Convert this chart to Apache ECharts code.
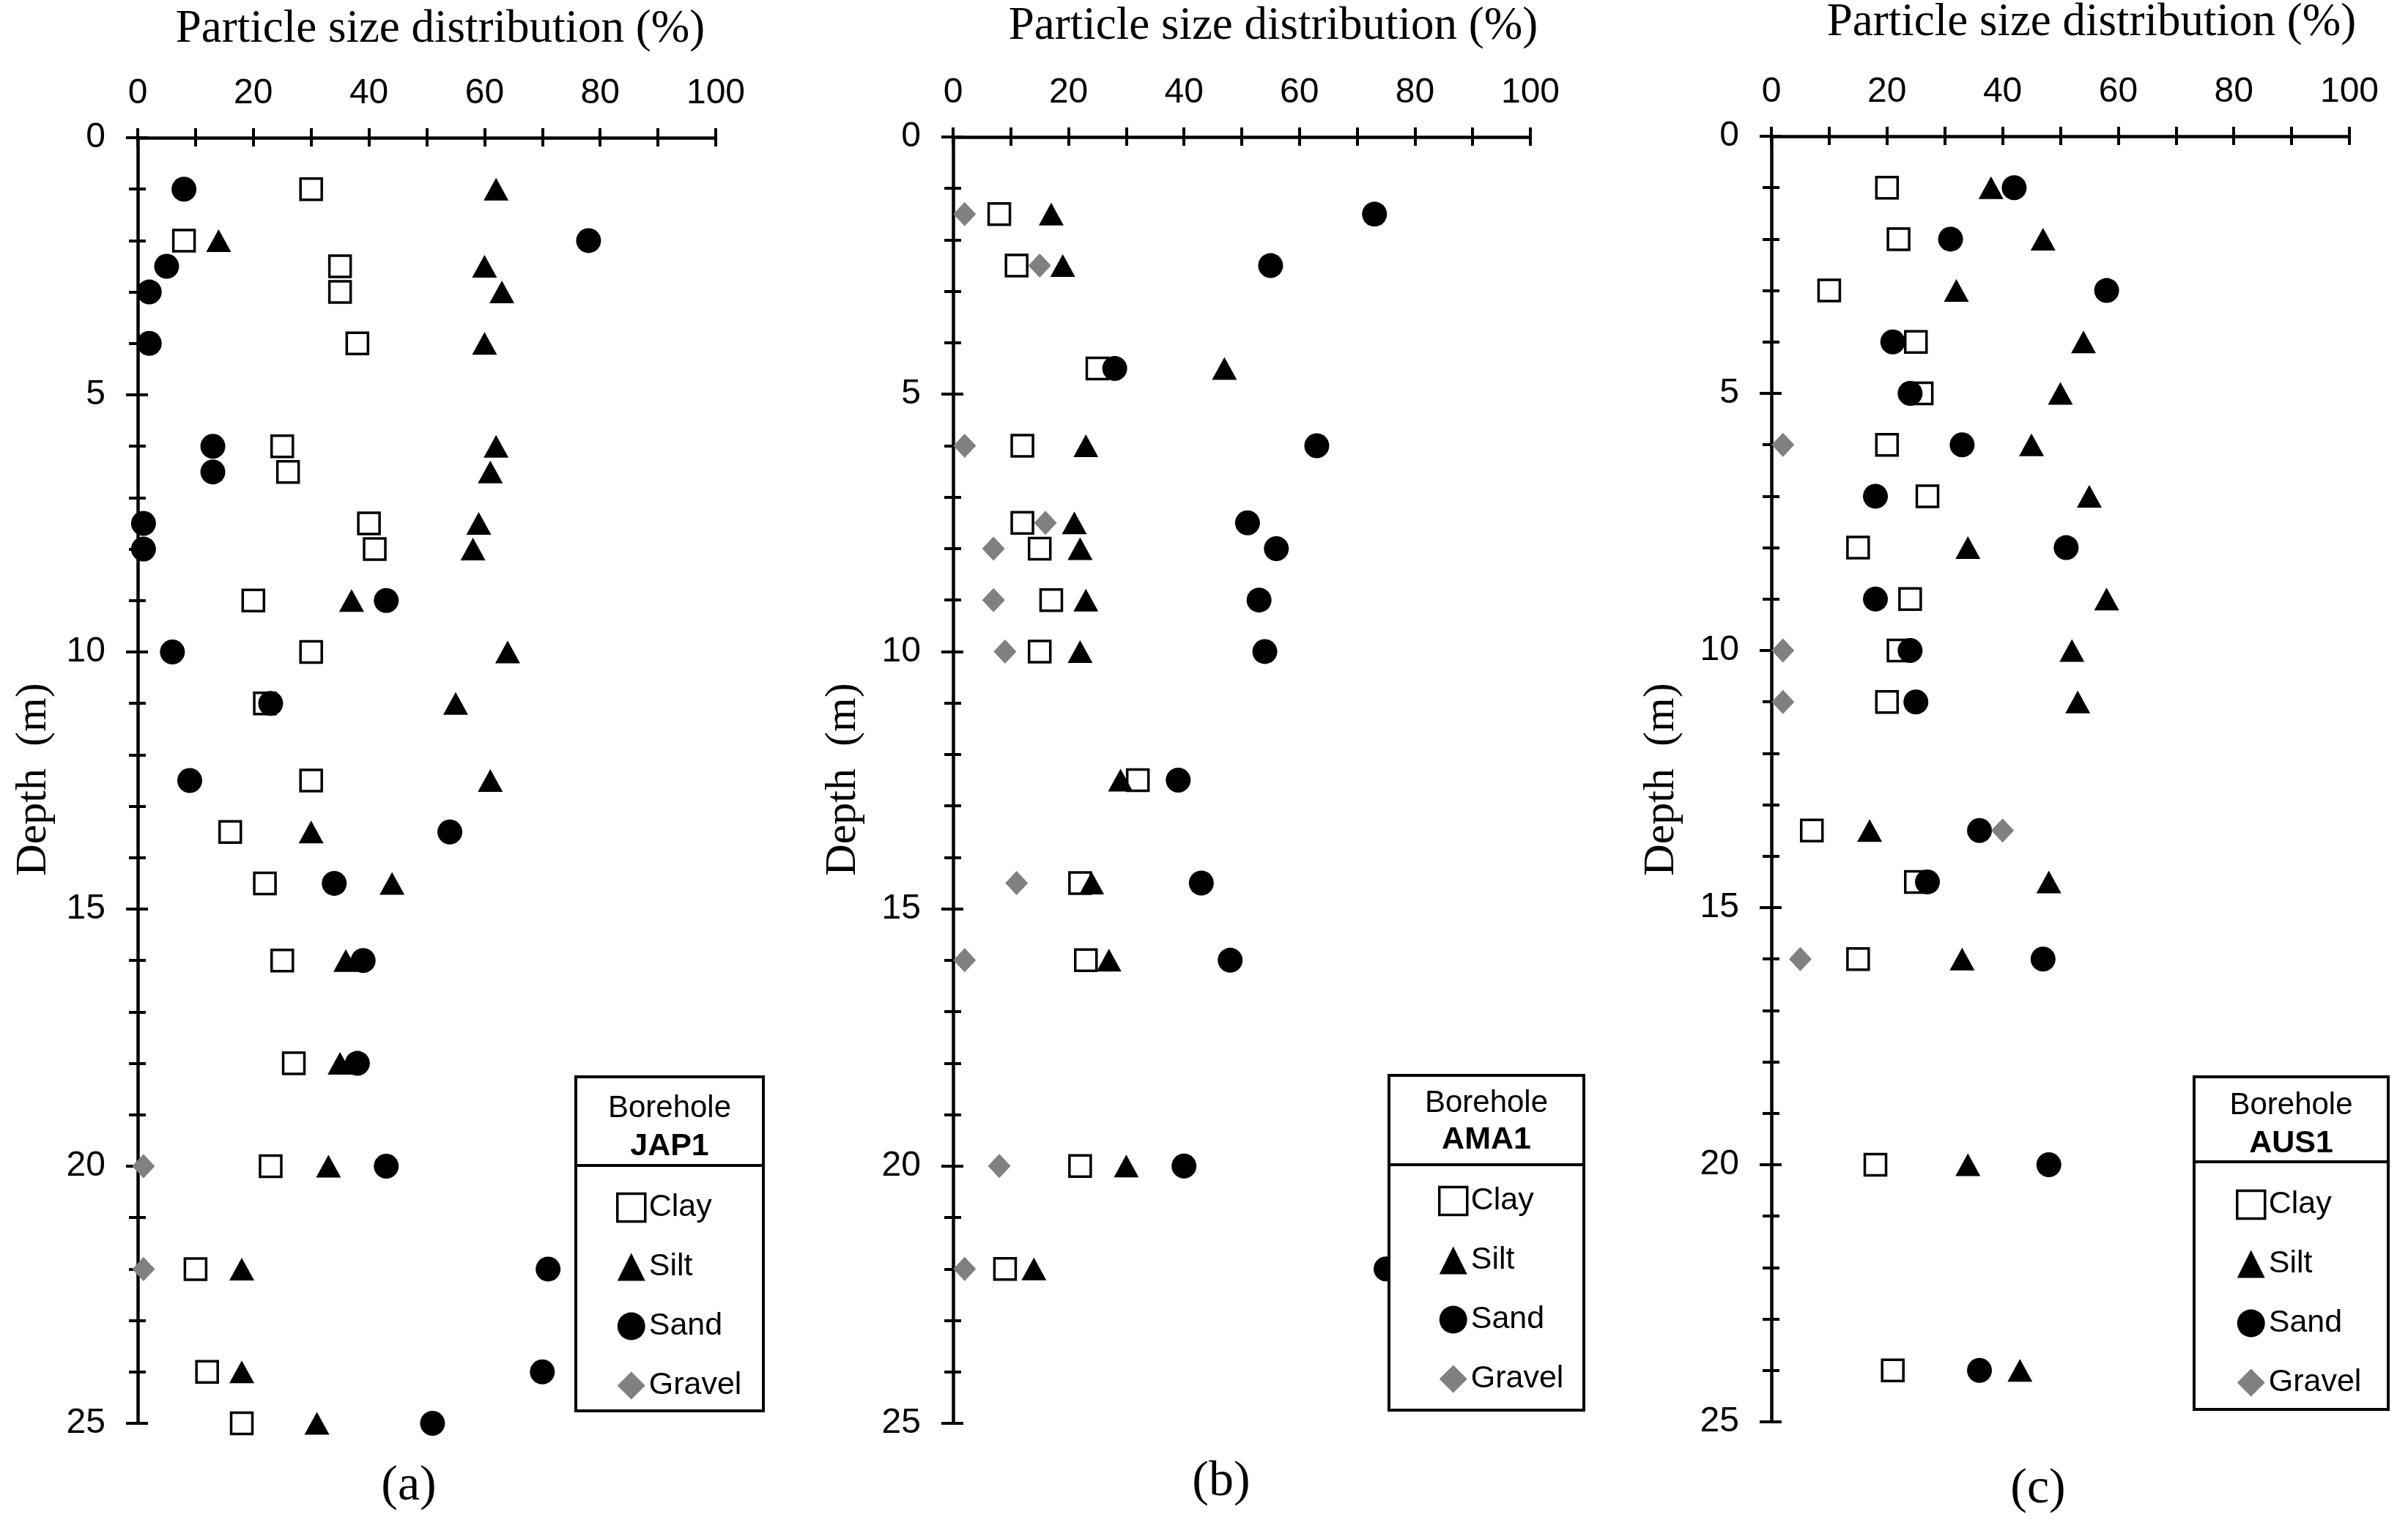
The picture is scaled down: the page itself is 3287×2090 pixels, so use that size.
<!DOCTYPE html>
<html>
<head>
<meta charset="utf-8">
<script src="https://cdn.jsdelivr.net/npm/echarts@6.0.0/dist/echarts.min.js"></script>
<style>
html, body { margin: 0; padding: 0; background: #fff; }
#main { width: 3287px; height: 2090px; }
</style>
</head>
<body>
<div id="main"></div>
<script>
// borehole JAP1 (a) - depth in m, fractions in %
var jap1Depth  = [1, 2, 2.5, 3, 4, 6, 6.5, 7.5, 8, 9, 10, 11, 12.5, 13.5, 14.5, 16, 18, 20, 22, 24, 25];
var jap1Clay   = [30, 8, 35, 35, 38, 25, 26, 40, 41, 20, 30, 22, 30, 16, 22, 25, 27, 23, 10, 12, 18];
var jap1Silt   = [62, 14, 60, 63, 60, 62, 61, 59, 58, 37, 64, 55, 61, 30, 44, 36, 35, 33, 18, 18, 31];
var jap1Sand   = [8, 78, 5, 2, 2, 13, 13, 1, 1, 43, 6, 23, 9, 54, 34, 39, 38, 43, 71, 70, 51];
var jap1Gravel = [null, null, null, null, null, null, null, null, null, null, null, null, null, null, null, null, null, 1, 1, null, null];

// borehole AMA1 (b)
var ama1Depth  = [1.5, 2.5, 4.5, 6, 7.5, 8, 9, 10, 12.5, 14.5, 16, 20, 22];
var ama1Clay   = [8, 11, 25, 12, 12, 15, 17, 15, 32, 22, 23, 22, 9];
var ama1Silt   = [17, 19, 47, 23, 21, 22, 23, 22, 29, 24, 27, 30, 14];
var ama1Sand   = [73, 55, 28, 63, 51, 56, 53, 54, 39, 43, 48, 40, 75];
var ama1Gravel = [2, 15, null, 2, 16, 7, 7, 9, null, 11, 2, 8, 2];

// borehole AUS1 (c)
var aus1Depth  = [1, 2, 3, 4, 5, 6, 7, 8, 9, 10, 11, 13.5, 14.5, 16, 20, 24];
var aus1Clay   = [20, 22, 10, 25, 26, 20, 27, 15, 24, 22, 20, 7, 25, 15, 18, 21];
var aus1Silt   = [38, 47, 32, 54, 50, 45, 55, 34, 58, 52, 53, 17, 48, 33, 34, 43];
var aus1Sand   = [42, 31, 58, 21, 24, 33, 18, 51, 18, 24, 25, 36, 27, 47, 48, 36];
var aus1Gravel = [null, null, null, null, null, 2, null, null, null, 2, 2, 40, null, 5, null, null];

var fractions = ['Clay', 'Silt', 'Sand', 'Gravel'];

var boreholes = [
    { name: 'JAP1', tag: '(a)', depth: jap1Depth, values: [jap1Clay, jap1Silt, jap1Sand, jap1Gravel] },
    { name: 'AMA1', tag: '(b)', depth: ama1Depth, values: [ama1Clay, ama1Silt, ama1Sand, ama1Gravel] },
    { name: 'AUS1', tag: '(c)', depth: aus1Depth, values: [aus1Clay, aus1Silt, aus1Sand, aus1Gravel] }
];

// layout of the three panels (pixels)
var panels = [
    { left: 188,  top: 188, width: 789, height: 1755, titleX: 601,  titleY: 40, depthX: 46,   tagX: 558,  tagY: 2029,
      box: [786, 1470, 256, 456], sepY: 1591, headY: [1513, 1565], legendLeft: 836 },
    { left: 1301, top: 187, width: 788, height: 1756, titleX: 1738, titleY: 36, depthX: 1151, tagX: 1667, tagY: 2023,
      box: [1896, 1468, 266, 457], sepY: 1590, headY: [1506, 1556], legendLeft: 1958 },
    { left: 2418, top: 186, width: 789, height: 1755, titleX: 2855, titleY: 31, depthX: 2268, tagX: 2782, tagY: 2033,
      box: [2995, 1470, 265, 454], sepY: 1586, headY: [1509, 1561], legendLeft: 3047 }
];

var markerStyle = {
    Clay:   { symbol: 'rect', symbolSize: 29, itemStyle: { color: '#fff', borderColor: '#000', borderWidth: 3.5, opacity: 1 } },
    Silt:   { symbol: 'triangle', symbolSize: [34, 31], itemStyle: { color: '#000', opacity: 1 } },
    Sand:   { symbol: 'circle', symbolSize: 34, itemStyle: { color: '#000', opacity: 1 } },
    Gravel: { symbol: 'diamond', symbolSize: [31, 33], itemStyle: { color: '#808080', opacity: 1 } }
};

function pairs(vals, depth) {
    var out = [];
    for (var i = 0; i < depth.length; i++) {
        if (vals[i] != null) out.push([vals[i], depth[i]]);
    }
    return out;
}

var black = '#000';
var grids = [], xAxes = [], yAxes = [], series = [], legends = [], graphics = [];

// bare axis that only draws ticks (used to make ticks cross the axis line)
function tickAxis(gi, pos, max, step, inside, len, inverse) {
    return {
        gridIndex: gi, type: 'value', position: pos, inverse: !!inverse, min: 0, max: max, interval: step,
        axisLine: { show: false },
        axisTick: { inside: inside, length: len, lineStyle: { color: black, width: 4 } },
        axisLabel: { show: false }, splitLine: { show: false }
    };
}

panels.forEach(function(p, gi) {
    var bh = boreholes[gi];
    grids.push({ left: p.left, top: p.top, width: p.width, height: p.height });

    // x axis on top
    xAxes.push({
        gridIndex: gi, type: 'value', position: 'top', min: 0, max: 100, interval: 10,
        axisLine: { lineStyle: { color: black, width: 4.5 } },
        axisTick: { inside: false, length: 13, lineStyle: { color: black, width: 4 } },
        axisLabel: {
            margin: 36, fontSize: 48, fontFamily: 'Liberation Sans', color: black,
            formatter: function(v) { return v % 20 === 0 ? String(v) : ''; }
        },
        splitLine: { show: false }
    });
    xAxes.push(tickAxis(gi, 'top', 100, 10, true, 12, false));

    // depth axis, pointing down
    yAxes.push({
        gridIndex: gi, type: 'value', position: 'left', inverse: true, min: 0, max: 25, interval: 1,
        axisLine: { lineStyle: { color: black, width: 4.5 } },
        axisTick: { inside: false, length: 12, lineStyle: { color: black, width: 4 } },
        axisLabel: {
            margin: 44, fontSize: 48, fontFamily: 'Liberation Sans', color: black,
            formatter: function(v) { return v % 5 === 0 ? String(v) : ''; }
        },
        splitLine: { show: false }
    });
    yAxes.push(tickAxis(gi, 'left', 25, 1, true, 11, true));
    yAxes.push(tickAxis(gi, 'left', 25, 5, false, 16, true));
    yAxes.push(tickAxis(gi, 'left', 25, 5, true, 14, true));

    fractions.forEach(function(f, k) {
        var m = markerStyle[f];
        series.push({
            name: f, type: 'scatter',
            xAxisIndex: gi * 2, yAxisIndex: gi * 4,
            symbol: m.symbol, symbolSize: m.symbolSize, itemStyle: m.itemStyle,
            data: pairs(bh.values[k], bh.depth),
            z: 3 + k
        });
    });

    legends.push({
        data: fractions, orient: 'vertical', left: p.legendLeft, top: p.headY[1] + 57,
        itemWidth: 38, itemHeight: 38, itemGap: 38, selectedMode: false, z: 20,
        itemStyle: { borderWidth: 'inherit' },
        textStyle: { fontSize: 43, lineHeight: 41, fontFamily: 'Liberation Sans', color: black }
    });

    var serif = 'Liberation Serif';
    graphics.push(
        { type: 'text', x: p.titleX, y: p.titleY, z: 10,
          style: { text: 'Particle size distribution (%)', fontSize: 63, fontFamily: serif, fill: black, align: 'center', verticalAlign: 'middle' } },
        { type: 'text', x: p.depthX, y: 1064, rotation: Math.PI / 2, z: 10,
          style: { text: 'Depth  (m)', fontSize: 60, fontFamily: serif, fill: black, align: 'center', verticalAlign: 'middle' } },
        { type: 'text', x: p.tagX, y: p.tagY, z: 10,
          style: { text: bh.tag, fontSize: 68, fontFamily: serif, fill: black, align: 'center', verticalAlign: 'middle' } },
        { type: 'rect', z: 10,
          shape: { x: p.box[0], y: p.box[1], width: p.box[2], height: p.box[3] },
          style: { fill: '#fff', stroke: black, lineWidth: 4 } },
        { type: 'line', z: 11,
          shape: { x1: p.box[0], y1: p.sepY, x2: p.box[0] + p.box[2], y2: p.sepY },
          style: { stroke: black, lineWidth: 4 } },
        { type: 'text', x: p.box[0] + p.box[2] / 2, y: p.headY[0], z: 11,
          style: { text: 'Borehole', fontSize: 42, fontFamily: 'Liberation Sans', fill: black, align: 'center', verticalAlign: 'middle' } },
        { type: 'text', x: p.box[0] + p.box[2] / 2, y: p.headY[1], z: 11,
          style: { text: bh.name, fontSize: 43, fontWeight: 'bold', fontFamily: 'Liberation Sans', fill: black, align: 'center', verticalAlign: 'middle' } }
    );
});

var myChart = echarts.init(document.getElementById('main'));
var option = {
    backgroundColor: '#fff',
    animation: false,
    grid: grids,
    xAxis: xAxes,
    yAxis: yAxes,
    legend: legends,
    series: series,
    graphic: { elements: graphics }
};
myChart.setOption(option);

window.addEventListener('resize', function() {
    myChart.resize();
});
</script>
</body>
</html>
